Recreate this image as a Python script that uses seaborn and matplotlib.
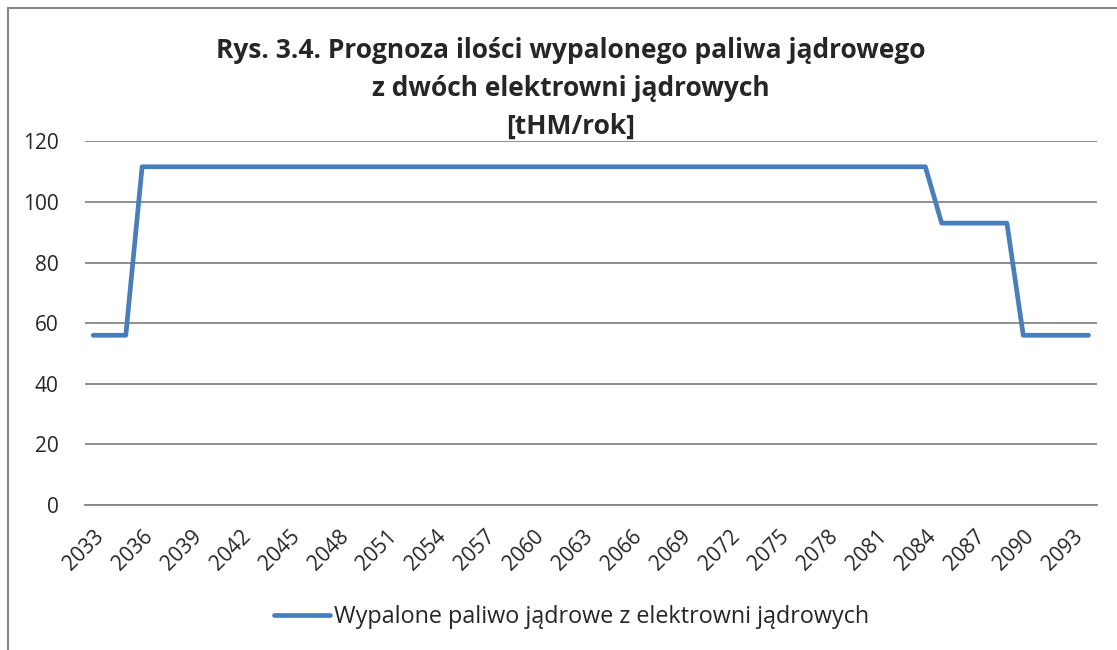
import matplotlib
matplotlib.use("Agg")
import matplotlib.pyplot as plt
import seaborn as sns
import pandas as pd
from matplotlib.patches import Rectangle

# dane
years = list(range(2033, 2095))
fuel = [56.0, 56.0, 56.0,
        111.6, 111.6, 111.6, 111.6, 111.6, 111.6, 111.6, 111.6, 111.6, 111.6,
        111.6, 111.6, 111.6, 111.6, 111.6, 111.6, 111.6, 111.6, 111.6, 111.6,
        111.6, 111.6, 111.6, 111.6, 111.6, 111.6, 111.6, 111.6, 111.6, 111.6,
        111.6, 111.6, 111.6, 111.6, 111.6, 111.6, 111.6, 111.6, 111.6, 111.6,
        111.6, 111.6, 111.6, 111.6, 111.6, 111.6, 111.6, 111.6, 111.6,
        93.0, 93.0, 93.0, 93.0, 93.0,
        56.0, 56.0, 56.0, 56.0, 56.0]
tick_years = list(range(2033, 2094, 3))
yticks = [0, 20, 40, 60, 80, 100, 120]
series_name = "Wypalone paliwo jądrowe z elektrowni jądrowych"
title_lines = ["Rys. 3.4. Prognoza ilości wypalonego paliwa jądrowego",
               "z dwóch elektrowni jądrowych",
               "[tHM/rok]"]

df = pd.DataFrame({"rok": years, "wartosc": fuel})

sns.set_style("white")
plt.rcParams['font.family'] = ['Open Sans', 'DejaVu Sans']

fig = plt.figure(figsize=(11.17, 6.5), dpi=100)
ax = fig.add_axes([0.0761, 0.2231, 0.9057, 0.5595])

sns.lineplot(data=df, x="rok", y="wartosc", ax=ax, color="#4A7EBB",
             linewidth=3.4, solid_capstyle="round", solid_joinstyle="round",
             label=series_name, legend=False)

ax.set_xlim(2032.5, 2094.5)
ax.set_ylim(0, 120)
ax.set_yticks(yticks)
ax.set_yticklabels([str(v) for v in yticks], fontsize=15)
ax.set_xticks(tick_years)
ax.set_xticklabels([str(y) for y in tick_years], fontsize=15, rotation=45,
                   ha="right", rotation_mode="anchor")
ax.tick_params(axis="y", length=0, pad=19)
ax.tick_params(axis="x", length=0, pad=15)
ax.set_xlabel("")
ax.set_ylabel("")
ax.grid(axis="y", color="#868686", linewidth=1.3)
ax.grid(axis="x", visible=False)
for s in ["top", "right", "left"]:
    ax.spines[s].set_visible(False)
ax.spines["bottom"].set_color("#868686")
ax.spines["bottom"].set_linewidth(1.3)
ax.set_axisbelow(True)

# tytuł
for i, line in enumerate(title_lines):
    fig.text(0.511, 1 - (50 + 38 * i) / 650, line, ha="center", va="center",
             fontsize=19, fontweight="bold")

# legenda
h, l = ax.get_legend_handles_labels()
fig.legend(h, l, loc="center", bbox_to_anchor=(0.512, 1 - 617 / 650),
           frameon=False, fontsize=16.8, handlelength=2.4, handletextpad=0.18)

# ramka wykresu
fig.patches.append(Rectangle((8 / 1117, -0.01), 1.1, 1 - 8 / 650 + 0.01,
                             transform=fig.transFigure, fill=False,
                             edgecolor="#868686", linewidth=1.5))

fig.savefig("out.png", dpi=100)
